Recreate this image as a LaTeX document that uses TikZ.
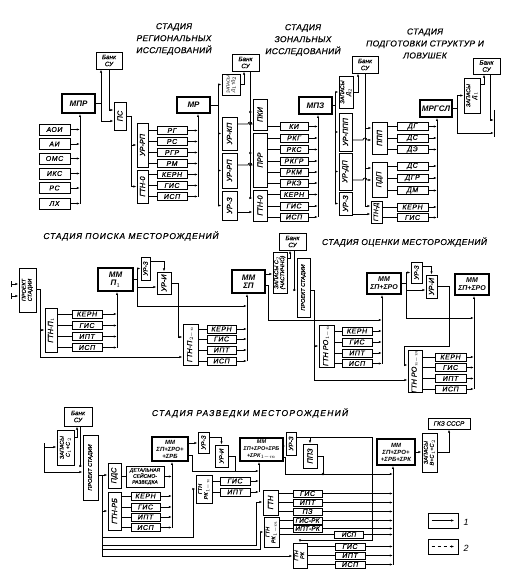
\documentclass[tikz,border=0pt]{standalone}
\usepackage{fontspec}
\setmainfont{Liberation Sans}
\usepackage{graphicx}
\usetikzlibrary{arrows.meta}
\newcommand{\vt}[1]{\rotatebox{90}{#1}}
\newcommand{\vtt}[2]{\rotatebox{90}{\begin{tabular}{@{}c@{}}#1\\#2\end{tabular}}}

\begin{document}
\begin{tikzpicture}[x=1pt, y=-1pt, line width=0.75pt,
  >={Latex[length=3.2pt,width=2.2pt]},
  rc/.style n args={4}{at={({((#1)+(#3))/2},{((#2)+(#4))/2})},
    minimum width={((#3)-(#1))*1pt}, minimum height={((#4)-(#2))*1pt}},
  blk/.style={draw, inner sep=0pt, font=\fontsize{7.3}{7.5}\selectfont\itshape\addfontfeature{FakeBold=0.5}},
  sb/.style={blk, minimum height=8pt, font=\fontsize{7}{7.5}\selectfont\itshape\addfontfeature{LetterSpace=8,FakeBold=0.5}},
  mm/.style={blk, line width=1.5pt, align=center, font=\fontsize{8}{8.5}\selectfont\itshape\bfseries},
  fsmall/.style={font=\fontsize{5.5}{6}\selectfont\itshape\addfontfeature{FakeBold=0.5}},
  fmid/.style={font=\fontsize{6.3}{7}\selectfont\itshape\addfontfeature{FakeBold=0.5}},
  ttl/.style={align=center, font=\fontsize{8.5}{12}\selectfont\itshape\addfontfeature{LetterSpace=4,FakeBold=0.4}},
  ttlw/.style={font=\fontsize{8.5}{10}\selectfont\itshape\addfontfeature{FakeBold=0.4}},
]
\useasboundingbox (0,0) rectangle (508,572);

% Stage 1: regional studies
\node[ttl] (tReg) at (174,39) {СТАДИЯ\\РЕГИОНАЛЬНЫХ\\ИССЛЕДОВАНИЙ};
\node[blk, align=center, rc={96}{52}{122}{69}, fmid] (bank1) {Банк\\СУ};
\node[mm, rc={62}{94}{95}{113}] (mpr) {МПР};
\node[blk, rc={114}{102}{126}{130}] (ps) {\vt{ПС}};
\foreach \n/\t/\y in {aoi/АОИ/129.5, ai/АИ/144, oms/ОМС/158.5, iks/ИКС/173.5, rs/РС/188, lh/ЛХ/203.5}
  \node[sb, minimum width=31pt, minimum height=11pt] (\n) at (54.5,\y) {\t};
\node[blk, rc={137}{123}{148}{167}] (urrp1) {\vt{УР-РП}};
\node[blk, rc={137}{170}{148}{203}] (gtna) {\vt{ГТН-0}};
\foreach \n/\t/\y in {rg/РГ/130.5, rsb/РС/141.5, rgr/РГР/152.5, rm/РМ/163.5, kerna/КЕРН/174.5, gisa/ГИС/185.5, ispa/ИСП/196.5}
  \node[sb, minimum width=30pt] (\n) at (172,\y) {\t};
\node[mm, rc={177}{97}{210}{113}] (mr) {МР};

\coordinate (bA) at (80,0);
\coordinate (bB) at (198,0);
\coordinate (jA) at (101,103.5);
\coordinate (jB) at (131,116);
\foreach \n in {aoi,ai,oms,iks,rs,lh} \draw[->] (\n.east) -- (\n.east -| bA);
\draw[->] (lh.east -| bA) -- (mpr.south -| bA);
\draw (mpr.east) -- (jA);
\draw[->] (jA) -- (jA |- bank1.south);
\draw[->] (jA) |- (ps.west |- 0,121);
\draw[->] (bank1.south) |- (ps.west |- 0,110);
\draw (ps.east |- jB) -- (jB);
\draw[->] (jB) |- (urrp1.west);
\draw[->] (jB) |- (gtna.west);
\foreach \n in {rg,rsb,rgr,rm} \draw (urrp1.east |- \n.west) -- (\n.west);
\foreach \n in {kerna,gisa,ispa} \draw (gtna.east |- \n.west) -- (\n.west);
\foreach \n in {rg,rsb,rgr,rm,kerna,gisa,ispa} \draw[->] (\n.east) -- (\n.east -| bB);
\draw[->] (ispa.east -| bB) -- (mr.south -| bB);

% Stage 2: zonal studies
\node[ttl] (tZon) at (303,40) {СТАДИЯ\\ЗОНАЛЬНЫХ\\ИССЛЕДОВАНИЙ};
\node[blk, align=center, rc={232}{54}{259}{71}, fmid] (bank2) {Банк\\СУ};
\node[blk, rc={222}{74}{240}{95}, font=\fontsize{4.3}{4.8}\selectfont\itshape] (zapa) {\vtt{ЗАПАСЫ}{Д$_1$+Д$_2$}};
\node[blk, rc={222}{117}{237}{150}] (urkp) {\vt{УР-КП}};
\node[blk, rc={222}{153}{237}{188}] (urrp2) {\vt{УР-РП}};
\node[blk, rc={222}{191}{237}{220}] (urza) {\vt{УР-З}};
\node[blk, rc={253}{99}{267}{130}] (pki) {\vt{ПКИ}};
\node[blk, rc={253}{133}{267}{187}] (prr) {\vt{ПРР}};
\node[blk, rc={253}{190}{267}{221}] (gtnb) {\vt{ГТН-0}};
\foreach \n/\t/\y in {ki/КИ/126.5, rkg/РКГ/138, rks/РКС/149.5, rkgr/РКГР/161, rkm/РКМ/172, rke/РКЭ/183, kernb/КЕРН/194.5, gisb/ГИС/206, ispb/ИСП/217}
  \node[sb, minimum width=28pt] (\n) at (294,\y) {\t};
\node[mm, rc={299}{97}{332}{114}] (mpz) {МПЗ};

\coordinate (jC) at (218,105);
\coordinate (bC) at (250,0);
\coordinate (bD) at (318,0);
\draw (mr.east) -- (jC);
\foreach \n in {zapa,urkp,urrp2,urza} \draw[->] (jC) |- (\n.west);
\draw[->] (zapa.east) -| (bank2.south -| 244,0);
\draw[->] (bank2.south -| bC) |- (pki.west |- 0,112);
\draw[->] (bank2.south -| bC) |- (prr.west |- 0,153);
\draw[->] (bank2.south -| bC) |- (gtnb.west |- 0,198);
\draw[->] (urkp.east |- 0,124) -- (248,124) arc[start angle=180, end angle=360, radius=2] -- (pki.west |- 0,124);
\draw[->] (urrp2.east |- 0,165) -- (248,165) arc[start angle=180, end angle=360, radius=2] -- (prr.west |- 0,165);
\draw[->] (urza.east |- 0,212) -- (gtnb.west |- 0,212);
\draw (pki.east |- ki.west) -- (ki.west);
\foreach \n in {rkg,rks,rkgr,rkm,rke} \draw (prr.east |- \n.west) -- (\n.west);
\foreach \n in {kernb,gisb,ispb} \draw (gtnb.east |- \n.west) -- (\n.west);
\foreach \n in {ki,rkg,rks,rkgr,rkm,rke,kernb,gisb,ispb} \draw[->] (\n.east) -- (\n.east -| bD);
\draw[->] (ispb.east -| bD) -- (mpz.south -| bD);

% Stage 3: preparation of structures and traps
\node[ttl] (tPrep) at (425,43.5) {СТАДИЯ\\ПОДГОТОВКИ СТРУКТУР И\\ЛОВУШЕК};
\node[blk, rc={339}{76}{353}{108}, fsmall] (zapb) {\vtt{ЗАПАСЫ}{Д$_2$}};
\node[blk, align=center, rc={352}{56}{378}{73}, fmid] (bank3) {Банк\\СУ};
\node[blk, rc={339}{113}{352}{151}] (urppp) {\vt{УР-ППП}};
\node[blk, rc={339}{153}{352}{190}] (urdp) {\vt{УР-ДП}};
\node[blk, rc={339}{192}{352}{215}] (urzb) {\vt{УР-З}};
\node[blk, rc={372}{122}{387}{154}] (ppp) {\vt{ППП}};
\node[blk, rc={372}{162}{387}{197}] (pdp) {\vt{ПДП}};
\node[blk, rc={371}{201}{382}{223}, fmid] (gtnd) {\vt{ГТН-Д}};
\foreach \n/\t/\y in {dg/ДГ/126.5, dsa/ДС/138, de/ДЭ/149.5, dsb/ДС/166, dgr/ДГР/178, dm/ДМ/190.5, kernc/КЕРН/207, gisc/ГИС/217.5}
  \node[sb, minimum width=31pt] (\n) at (412.5,\y) {\t};
\node[mm, rc={420}{100}{452}{117}] (mrgsl) {МРГСЛ};
\node[blk, rc={464}{78}{480}{113}, fsmall] (zapc) {\vtt{ЗАПАСЫ}{Д$_1$}};
\node[blk, align=center, rc={473}{58}{500}{74}, fmid] (bank4) {Банк\\СУ};

\coordinate (jD) at (335,105.5);
\coordinate (bE) at (365,0);
\coordinate (bF) at (437,0);
\coordinate (jE) at (457,108.5);
\coordinate (rbT) at (494,110);
\coordinate (rbB) at (494,137);
\draw (mpz.east) -- (jD);
\foreach \n in {zapb,urppp,urdp,urzb} \draw[->] (jD) |- (\n.west);
\draw[->] (zapb.east) -| (bank3.south -| 358,0);
\draw[->] (bank3.south -| bE) |- (ppp.west |- 0,128);
\draw[->] (bank3.south -| bE) |- (pdp.west |- 0,168);
\draw[->] (bank3.south -| bE) |- (gtnd.west |- 0,206);
\draw[->] (urppp.east |- 0,140) -- (363,140) arc[start angle=180, end angle=360, radius=2] -- (ppp.west |- 0,140);
\draw[->] (urdp.east |- 0,180) -- (363,180) arc[start angle=180, end angle=360, radius=2] -- (pdp.west |- 0,180);
\draw[->] (urzb.east |- 0,214) -- (gtnd.west |- 0,214);
\foreach \n in {dg,dsa,de} \draw (ppp.east |- \n.west) -- (\n.west);
\foreach \n in {dsb,dgr,dm} \draw (pdp.east |- \n.west) -- (\n.west);
\foreach \n in {kernc,gisc} \draw (gtnd.east |- \n.west) -- (\n.west);
\foreach \n in {dg,dsa,de,dsb,dgr,dm,kernc,gisc} \draw[->] (\n.east) -- (\n.east -| bF);
\draw[->] (gisc.east -| bF) -- (mrgsl.south -| bF);
\draw (mrgsl.east) -- (jE);
\draw[->] (jE) |- (zapc.west);
\draw (rbT) -- (rbB);
\draw[->] (jE) |- (rbB |- 0,133);
\draw[->] (zapc.east |- 0,84) -| (bank4.south -| 484,0);
\draw[->] (bank4.south -| 490,0) |- (rbT |- 0,120);

% Stage 4: prospecting
\node[ttlw] (tPoisk) at (131,236) {\addfontfeature{LetterSpace=10}СТАДИЯ ПОИСКА МЕСТОРОЖДЕНИЙ};
\node[blk, rc={19}{268}{36}{312}, fsmall] (proja) {\vtt{ПРОЕКТ}{СТАДИИ}};
\coordinate (inA) at (11,284);
\coordinate (inB) at (11,296);
\draw[|->] (inA) -- (inA -| proja.west);
\draw[|->] (inB) -- (inB -| proja.west);
\node[blk, rc={45}{308}{57}{352}] (gtnpa) {\vt{ГТН-П$_1$}};
\foreach \n/\t/\y in {kernd/КЕРН/314, gisd/ГИС/325.5, iptd/ИПТ/336.5, ispd/ИСП/347.5}
  \node[sb, minimum width=30pt] (\n) at (87,\y) {\t};
\node[mm, rc={98}{268}{133}{291}] (mmpa) {ММ\\П$_1$};
\node[blk, rc={141}{257}{150}{280}, fmid] (urzc) {\vt{УР-З}};
\node[blk, rc={157}{272}{171}{294}] (uria) {\vt{УР-И}};
\node[blk, rc={183}{324}{198}{365}] (gtnpb) {\vt{ГТН-П$_{2-n}$}};
\foreach \n/\t/\y in {kerne/КЕРН/329, gise/ГИС/339, ipte/ИПТ/350, ispe/ИСП/361}
  \node[sb, minimum width=29pt] (\n) at (221.5,\y) {\t};
\node[mm, rc={232}{270}{265}{293}] (mmsp) {ММ\\ΣП};
\node[blk, rc={273}{252}{287}{293}, fsmall] (zapd) {\vtt{ЗАПАСЫ С$_2$}{(ЧАСТИЧНО)}};
\node[blk, align=center, rc={279}{233}{306}{250}, fmid] (bank5) {Банк\\СУ};
\node[blk, rc={297}{258}{310}{317}, fsmall] (projb) {\vt{ПРОЕКТ СТАДИИ}};

\coordinate (jF) at (40,289);
\coordinate (bG) at (117,0);
\coordinate (jG) at (137,279.5);
\coordinate (jH) at (178,283);
\coordinate (bH) at (247,0);
\draw (proja.east |- jF) -- (jF);
\draw[->] (jF) |- (gtnpa.west);
\draw[->] (jF) |- (gtnpb.west |- 0,357);
\foreach \n in {kernd,gisd,iptd,ispd} \draw (gtnpa.east |- \n.west) -- (\n.west);
\foreach \n in {kernd,gisd,iptd,ispd} \draw[->] (\n.east) -- (\n.east -| bG);
\draw[->] (ispd.east -| bG) -- (mmpa.south -| bG);
\draw (mmpa.east) -- (jG);
\draw[->] (jG) |- (urzc.west);
\draw[->] (jG) |- (uria.west |- 0,287);
\draw[->] (jG) |- (bH |- 0,306);
\draw[->] (urzc.east |- 0,261) -| (uria.north);
\draw (uria.east) -- (jH);
\draw[->] (jH) |- (gtnpb.west |- 0,337);
\foreach \n in {kerne,gise,ipte,ispe} \draw (gtnpb.east |- \n.west) -- (\n.west);
\foreach \n in {kerne,gise,ipte,ispe} \draw[->] (\n.east) -- (\n.east -| bH);
\draw[->] (ispe.east -| bH) -- (mmsp.south -| bH);

% Stage 5: appraisal
\node[ttlw] (tOcen) at (404.5,242) {\addfontfeature{LetterSpace=5}СТАДИЯ ОЦЕНКИ МЕСТОРОЖДЕНИЙ};
\node[blk, rc={319}{325}{334}{367}] (gtnroa) {\vt{ГТН РО$_{1-n}$}};
\foreach \n/\t/\y in {kernf/КЕРН/331, gisf/ГИС/342, iptf/ИПТ/353, ispf/ИСП/363.5}
  \node[sb, minimum width=30pt] (\n) at (357,\y) {\t};
\node[mm, rc={367}{273}{401}{294}, font=\fontsize{7}{8}\selectfont\itshape\bfseries] (mmspro) {ММ\\ΣП+ΣРО};
\node[blk, rc={411}{262}{422}{283}, fmid] (urzd) {\vt{УР-З}};
\node[blk, rc={426}{275}{437}{298}] (urib) {\vt{УР-И}};
\node[blk, rc={408}{351}{422}{392}] (gtnrob) {\vt{ГТН РО$_{n-m}$}};
\foreach \n/\t/\y in {kerng/КЕРН/357, gisg/ГИС/367.5, iptg/ИПТ/378.5, ispg/ИСП/389}
  \node[sb, minimum width=31pt] (\n) at (450.5,\y) {\t};
\node[mm, rc={455}{274}{489}{295}, font=\fontsize{7}{8}\selectfont\itshape\bfseries] (mmsprob) {ММ\\ΣП+ΣРО};

\coordinate (jI) at (314,290);
\coordinate (bI) at (382,0);
\coordinate (jJ) at (406,283.5);
\coordinate (bJ) at (474,0);
\draw[->] (mmsp.east |- 0,274) -- (zapd.west |- 0,274);
\draw[->] (mmsp.east |- 0,285) -- (268,285) -- (268,320) -- (bI |- 0,320);
\draw[->] (zapd.east |- 0,258) -| (bank5.south -| 290,0);
\draw[->] (bank5.south -| 294,0) |- (projb.west |- 0,290);
\draw (projb.east |- jI) -- (jI);
\draw[->] (jI) |- (gtnroa.west);
\draw[->] (jI) |- (gtnrob.west |- 0,380);
\foreach \n in {kernf,gisf,iptf,ispf} \draw (gtnroa.east |- \n.west) -- (\n.west);
\foreach \n in {kernf,gisf,iptf,ispf} \draw[->] (\n.east) -- (\n.east -| bI);
\draw[->] (ispf.east -| bI) -- (mmspro.south -| bI);
\draw (mmspro.east) -- (jJ);
\draw[->] (jJ) |- (urzd.west);
\draw[->] (jJ) |- (urib.west |- 0,290);
\draw[->] (jJ) |- (bJ |- 0,318);
\draw[->] (urzd.east |- 0,266) -| (urib.north);
\draw[->] (urib.east) -- (449,286.5) -- (449,346) -- (404,346) -- (404,365) -- (gtnrob.west |- 0,365);
\foreach \n in {kerng,gisg,iptg,ispg} \draw (gtnrob.east |- \n.west) -- (\n.west);
\foreach \n in {kerng,gisg,iptg,ispg} \draw[->] (\n.east) -- (\n.east -| bJ);
\draw[->] (ispg.east -| bJ) -- (mmsprob.south -| bJ);

% Stage 6: exploration
\node[ttlw] (tRazv) at (250,413) {\addfontfeature{LetterSpace=15}СТАДИЯ РАЗВЕДКИ МЕСТОРОЖДЕНИЙ};
\node[blk, align=center, rc={64}{407}{92}{426}, fmid] (bank6) {Банк\\СУ};
\node[blk, rc={57}{430}{74}{465}, fsmall] (zape) {\vtt{ЗАПАСЫ}{С$_1$+С$_2$}};
\node[blk, rc={83}{435}{98}{500}, fsmall] (projc) {\vt{ПРОЕКТ СТАДИИ}};
\node[blk, rc={108}{463}{121}{488}] (pds) {\vt{ПДС}};
\node[blk, align=center, rc={126}{466}{164}{487}, font=\fontsize{5}{6}\selectfont\itshape\addfontfeature{FakeBold=0.5}] (det) {ДЕТАЛЬНАЯ\\СЕЙСМО-\\РАЗВЕДКА};
\node[blk, rc={108}{492}{121}{530}] (gtnrb) {\vt{ГТН-РБ}};
\foreach \n/\t/\y in {kernh/КЕРН/496, gish/ГИС/507, ipth/ИПТ/517, isph/ИСП/527.5}
  \node[sb, minimum width=29pt] (\n) at (145.5,\y) {\t};
\node[mm, rc={152}{437}{188}{461}, font=\fontsize{6}{7}\selectfont\itshape\bfseries] (mmrb) {ММ\\ΣП+ΣРО+\\+ΣРБ};
\node[blk, rc={198}{432}{209}{453}, fmid] (urze) {\vt{УР-З}};
\node[blk, rc={215}{445}{228}{467}, fmid] (uric) {\vt{УР-И}};
\node[blk, rc={196}{475}{212}{503}, fsmall] (gtnrka) {\vtt{ГТН}{РК$_{1-n}$}};
\foreach \n/\t/\y in {gisi/ГИС/481, ipti/ИПТ/492}
  \node[sb, minimum width=30pt] (\n) at (235,\y) {\t};
\node[mm, rc={240}{438}{283}{461}, font=\fontsize{5.5}{7}\selectfont\itshape\bfseries] (mmrk) {ММ\\ΣП+ΣРО+ΣРБ\\+ΣРК$_{1-m}$};
\node[blk, rc={286}{432}{296}{455}, fmid] (urzf) {\vt{УР-З}};
\node[blk, rc={303}{444}{317}{468}] (ppz) {\vt{ППЗ}};
\node[blk, rc={263}{490}{278}{515}] (gtnc) {\vt{ГТН}};
\foreach \n/\t/\y in {gisj/ГИС/493.5, iptj/ИПТ/502.5, pzj/ПЗ/511.5}
  \node[sb, minimum width=29pt, minimum height=7pt] (\n) at (307.5,\y) {\t};
\node[blk, rc={264}{517}{279}{547}, fsmall] (gtnrkb) {\vtt{ГТН}{РК$_{1-m}$}};
\foreach \n/\t/\x/\y in {gisrk/ГИС-РК/307.5/520.5, iptrk/ИПТ-РК/307.5/528.5, ispk/ИСП/349/534.5}
  \node[sb, minimum width=29pt, minimum height=7pt, font=\fontsize{6.5}{7}\selectfont\itshape\addfontfeature{LetterSpace=2,FakeBold=0.5}] (\n) at (\x,\y) {\t};
\node[blk, rc={293}{543}{307}{568}, fsmall] (gtne) {\vtt{ГТН}{РК}};
\foreach \n/\t/\y in {gisk/ГИС/546.5, iptk/ИПТ/555.5, ispl/ИСП/564.5}
  \node[sb, minimum width=30pt, minimum height=7pt] (\n) at (350,\y) {\t};
\node[mm, rc={377}{439}{415}{465}, font=\fontsize{6}{7}\selectfont\itshape\bfseries] (mmfin) {ММ\\ΣП+ΣРО+\\+ΣРБ+ΣРК};
\node[blk, rc={422}{433}{437}{472}, fsmall] (zapf) {\vtt{ЗАПАСЫ}{В+С$_1$+С$_2$}};
\node[blk, rc={428}{418}{470}{429}, fmid] (gkz) {ГКЗ СССР};

\coordinate (brT) at (44,443);
\coordinate (brB) at (44,472);
\coordinate (jK) at (102,475);
\coordinate (bK) at (172,0);
\coordinate (bL) at (259,0);
\coordinate (bM) at (393,0);
\draw (brT) -- (brB);
\draw[->] (brT |- 0,447) -- (zape.west |- 0,447);
\draw[->] (brB) -- (projc.west |- brB);
\draw[->] (zape.east |- 0,437) -| (bank6.south -| 77,0);
\draw[->] (bank6.south -| 80,0) |- (projc.west |- 0,466);
\draw (projc.east |- jK) -- (jK);
\draw[->] (jK) -- (pds.west |- jK);
\draw[->] (jK) |- (gtnrb.west);
\draw (jK) -- (102,556);
\draw[->] (102,537) -- (193,537) -- (193,489) -- (gtnrka.west |- 0,489);
\draw[->] (102,545) -- (256,545) -- (256,502) -- (gtnc.west |- 0,502);
\draw[->] (102,549) -- (260,549) -- (260,532) -- (gtnrkb.west |- 0,532);
\draw[->] (102,556) -- (gtne.west |- 0,556);
\draw (pds.east |- det.west) -- (det.west);
\foreach \n in {kernh,gish,ipth,isph} \draw (gtnrb.east |- \n.west) -- (\n.west);
\foreach \n in {det,kernh,gish,ipth,isph} \draw[->] (\n.east) -- (\n.east -| bK);
\draw[->] (isph.east -| bK) -- (mmrb.south -| bK);
\draw[->] (mmrb.east |- 0,443) -- (urze.west |- 0,443);
\draw (mmrb.east |- 0,455) -- (192,455) -- (192,471);
\draw[->] (192,471) -- (bL |- 0,471);
\draw[->] (urze.east |- 0,437) -| (uric.north);
\draw (uric.east) -- (235,456) -- (235,471);
\foreach \n in {gisi,ipti} \draw (gtnrka.east |- \n.west) -- (\n.west);
\foreach \n in {gisi,ipti} \draw[->] (\n.east) -- (\n.east -| bL);
\draw[->] (ipti.east -| bL) -- (mmrk.south -| bL);
\draw[->] (mmrk.east |- 0,446) -- (urzf.west |- 0,446);
\draw[->] (mmrk.east |- 0,457) -- (285,457) -- (285,474) -- (bM |- 0,474);
\draw[->] (urzf.east |- 0,437) -- (372,437) -- (372,540) -- (300,540) -- (gtne.north);
\draw[->] (310,437) -- (ppz.north);
\draw (ppz.east) -- (323,456) -- (323,474);
\fill (323,474) circle[radius=1.3];
\foreach \n in {gisj,iptj,pzj} \draw (gtnc.east |- \n.west) -- (\n.west);
\foreach \n in {gisrk,iptrk,ispk} \draw (gtnrkb.east |- \n.west) -- (\n.west);
\foreach \n in {gisk,iptk,ispl} \draw (gtne.east |- \n.west) -- (\n.west);
\foreach \n in {gisj,iptj,pzj,gisrk,iptrk,ispk,gisk,iptk,ispl} \draw[->] (\n.east) -- (\n.east -| bM);
\draw[->] (ispl.east -| bM) -- (mmfin.south -| bM);
\draw[->] (mmfin.east) -- (mmfin.east -| zapf.west);
\draw[->] (zapf.east) -| (gkz.south);

% Legend
\node[blk, rc={428}{513}{458}{528}] (lega) {};
\node[blk, rc={428}{539}{458}{554}] (legb) {};
\draw[->] ([xshift=4pt]lega.west) -- ([xshift=-4pt]lega.east);
\draw[->, dashed] ([xshift=4pt]legb.west) -- ([xshift=-4pt]legb.east);
\node[font=\fontsize{9}{9}\selectfont\itshape, anchor=west] (laba) at (460,522) {1};
\node[font=\fontsize{9}{9}\selectfont\itshape, anchor=west] (labb) at (460,548) {2};
\end{tikzpicture}
\end{document}
